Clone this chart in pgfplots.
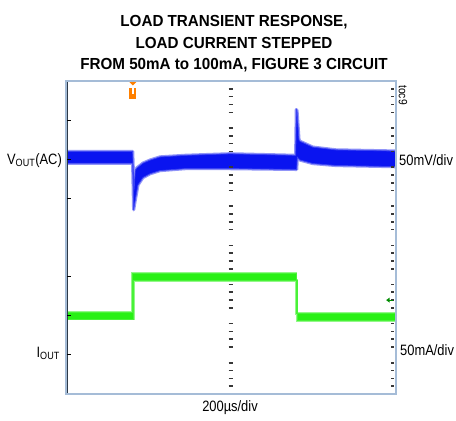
\documentclass[border=0pt]{standalone}
\usepackage{fontspec}
\setmainfont{Liberation Sans}
\newfontfamily\lblfont{Liberation Sans}[FakeStretch=0.86]
\newfontfamily\ttlfont{Liberation Sans}[FakeStretch=0.95]
\usepackage{pgfplots}
\pgfplotsset{compat=1.18}
\definecolor{scopeblue}{RGB}{10,20,240}
\definecolor{scopegreen}{RGB}{40,240,20}
\definecolor{frameblue}{RGB}{165,188,215}
\definecolor{framedark}{RGB}{45,58,72}
\definecolor{trigorange}{RGB}{255,128,0}
\definecolor{dashgray}{RGB}{55,55,55}
\pgfplotstableread{
x y
0 6.20
2.02 6.20
2.06 5.20
2.10 5.72
2.15 5.78
2.33 5.90
2.55 5.98
2.85 6.06
3.61 6.10
4.97 6.14
6.96 6.10
6.98 7.27
7.00 7.24
7.06 6.50
7.09 6.46
7.48 6.31
8.18 6.24
10 6.21
10 5.81
8.18 5.84
7.48 5.89
7.09 5.98
7.01 6.05
6.99 5.74
4.97 5.76
3.61 5.76
2.85 5.71
2.55 5.63
2.33 5.53
2.18 5.34
2.10 4.96
2.05 4.71
2.03 5.50
2.02 5.90
0 5.90
}\vout
\pgfplotstableread{
x y
0 2.09
2.02 2.09
2.02 3.08
6.97 3.08
6.97 2.06
10 2.06
10 1.88
7.00 1.88
7.00 2.90
2.05 2.90
2.05 1.91
0 1.91
}\iout
\begin{document}
\begin{tikzpicture}[x=1bp,y=1bp]
\useasboundingbox (0,0) rectangle (456,420);
\begin{axis}[
  at={(66bp,26bp)}, anchor=south west,
  scale only axis, width=330bp, height=313bp,
  xmin=0, xmax=10, ymin=0, ymax=8,
  axis line style={draw=frameblue, line width=2bp},
  xtick=\empty, ytick={1,2,3,5,6,7}, yticklabels={},
  ytick pos=left, tick align=inside,
  major tick length=5bp, tick style={black, line width=1.2bp},
  axis on top,
]
% VOUT(AC) band: soft noisy edge, then core
\addplot[draw=scopeblue!45, line width=3.2bp, line join=round] table {\vout} -- cycle;
\addplot[fill=scopeblue, draw=scopeblue!80, line width=0.8bp] table {\vout} -- cycle;
% IOUT band
\addplot[draw=scopegreen!50, line width=2.4bp] table {\iout} -- cycle;
\addplot[fill=scopegreen, draw=scopegreen!85, line width=0.8bp] table {\iout} -- cycle;
% graticule: minor ticks on centre line and right edge
\pgfplotsinvokeforeach{0,1,2,3,4,5,6,7}{
  \draw[dashgray, line width=1.6bp] (axis cs:4.93,#1.2) -- (axis cs:5.07,#1.2);
  \draw[dashgray, line width=1.6bp] (axis cs:4.93,#1.4) -- (axis cs:5.07,#1.4);
  \draw[dashgray, line width=1.6bp] (axis cs:4.93,#1.6) -- (axis cs:5.07,#1.6);
  \draw[dashgray, line width=1.6bp] (axis cs:4.93,#1.8) -- (axis cs:5.07,#1.8);
  \draw[dashgray, line width=1.6bp] (axis cs:9.85,#1.2) -- (axis cs:9.93,#1.2);
  \draw[dashgray, line width=1.6bp] (axis cs:9.85,#1.4) -- (axis cs:9.93,#1.4);
  \draw[dashgray, line width=1.6bp] (axis cs:9.85,#1.6) -- (axis cs:9.93,#1.6);
  \draw[dashgray, line width=1.6bp] (axis cs:9.85,#1.8) -- (axis cs:9.93,#1.8);
}
% dark left edge
\draw[framedark, line width=1.6bp] (axis cs:0.035,0) -- (axis cs:0.035,8);
% trigger marker
\fill[trigorange] (axis cs:2.03,8) ++(-3.5bp,-1bp) -- ++(7bp,0) -- ++(-3.5bp,-3.5bp) -- cycle;
\fill[trigorange] (axis cs:2.03,8) ++(-3.5bp,-7bp) rectangle ++(7bp,-11bp);
\fill[white] (axis cs:2.03,8) ++(-1bp,-7bp) rectangle ++(2bp,-6bp);
% ground marker of channel 2
\fill[green!55!black] (axis cs:9.70,2.40) -- ++(3.5bp,2.5bp) -- ++(0,-5bp) -- cycle;
\draw[green!55!black, line width=1.2bp] (axis cs:9.72,2.40) -- ++(6bp,0);
\end{axis}
% titles
\node[anchor=base, font=\ttlfont\bfseries\fontsize{16bp}{19bp}\selectfont] at (234,393) {LOAD TRANSIENT RESPONSE,};
\node[anchor=base, font=\ttlfont\bfseries\fontsize{16bp}{19bp}\selectfont] at (234,372) {LOAD CURRENT STEPPED};
\node[anchor=base, font=\ttlfont\bfseries\fontsize{16bp}{19bp}\selectfont] at (234,351) {FROM 50mA to 100mA, FIGURE 3 CIRCUIT};
% channel labels
\node[anchor=base east, inner sep=0pt, font=\lblfont\fontsize{15bp}{18bp}\selectfont] at (62,256) {V\textsubscript{OUT}(AC)};
\node[anchor=base east, inner sep=0pt, font=\lblfont\fontsize{15bp}{18bp}\selectfont] at (60,63) {I\textsubscript{OUT}};
\node[anchor=base west, inner sep=0pt, font=\lblfont\fontsize{15bp}{18bp}\selectfont] at (399,255) {50mV/div};
\node[anchor=base west, inner sep=0pt, font=\lblfont\fontsize{15bp}{18bp}\selectfont] at (400,65) {50mA/div};
\node[anchor=base, inner sep=0pt, font=\lblfont\fontsize{15bp}{18bp}\selectfont] at (230,9) {200µs/div};
\node[rotate=-90, inner sep=0pt, font=\lblfont\fontsize{12bp}{14bp}\selectfont] at (403,325) {toc9};
\end{tikzpicture}
\end{document}
